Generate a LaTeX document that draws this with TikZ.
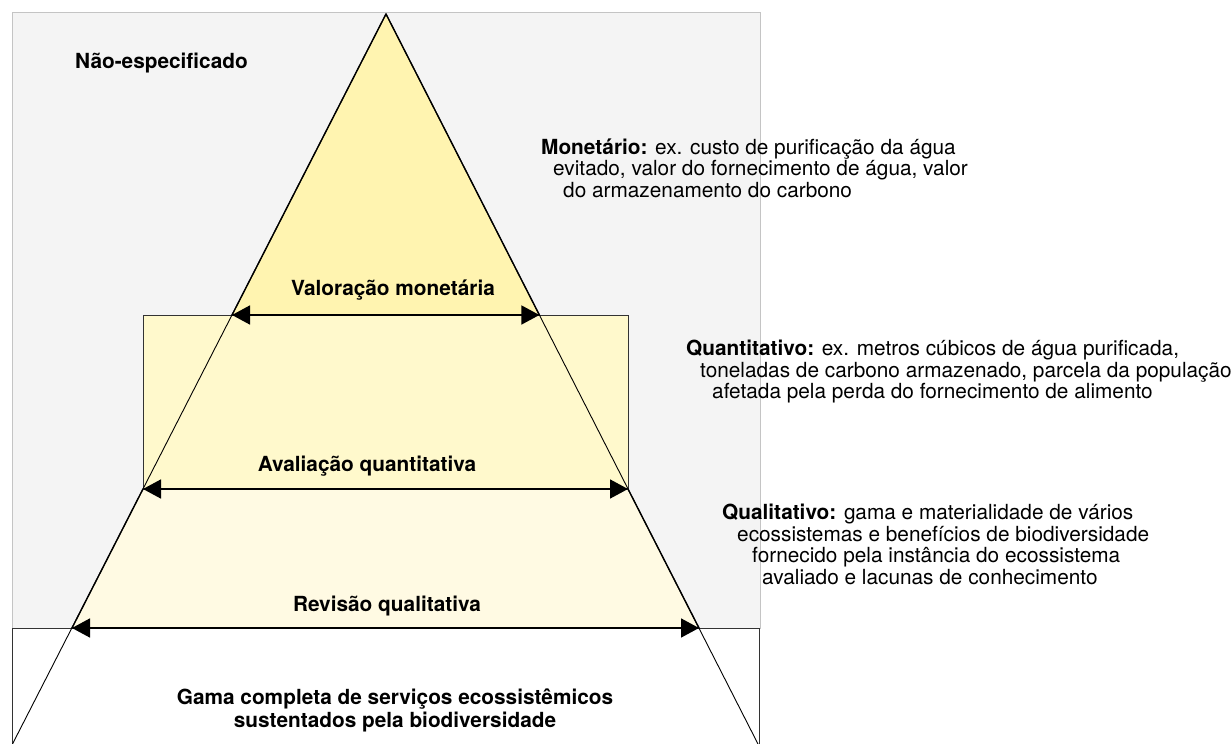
\documentclass[tikz,border=0pt]{standalone}
\usepackage{fontspec}
\setmainfont{TeX Gyre Heros}
\usetikzlibrary{positioning}
\usetikzlibrary{arrows.meta}

\definecolor{bg_grey}{HTML}{F4F4F4}
\definecolor{edge_grey}{HTML}{C4C4C4}
\definecolor{top_yellow}{HTML}{FFF4B0}
\definecolor{mid_yellow}{HTML}{FFF9CC}
\definecolor{low_yellow}{HTML}{FFFAE3}

\newcommand{\diagfont}{\fontsize{20.8}{21.5}\selectfont}

\begin{document}
\begin{tikzpicture}[x=1pt, y=-1pt,
                          levellabel/.style={font=\diagfont\bfseries, inner sep=0pt, anchor=base},
                          notetext/.style={font=\diagfont, align=left, inner sep=0pt, anchor=base west},
                          rangearrow/.style={{Triangle[length=18pt,width=19pt]}-{Triangle[length=18pt,width=19pt]}, line width=1.6pt},
                          thinline/.style={draw=black, line width=0.9pt},
                          layerline/.style={draw=black, line width=1.4pt, line join=round},
                          areabox/.style={draw=black!80, line width=1pt},
                      ]
                      \useasboundingbox (0,0) rectangle (1232,744);

                      % Areas
                      \draw[areabox, fill=bg_grey, draw=edge_grey] (12,12) rectangle (760,628);
                      \draw[areabox, fill=white] (12,628) rectangle (759,744);
                      \draw[areabox, fill=mid_yellow] (143,315) rectangle (628,489);

                      % Corners of the pyramid
                      \coordinate (apex)   at (386,14);
                      \coordinate (base_l) at (12.5,744);
                      \coordinate (base_r) at (758,744);
                      \coordinate (mon_l)  at (232,315);
                      \coordinate (mon_r)  at (539.4,315);
                      \coordinate (quan_l) at (143,489);
                      \coordinate (quan_r) at (628,489);
                      \coordinate (qual_l) at (72,628);
                      \coordinate (qual_r) at (699,628);

                      \filldraw[layerline, fill=top_yellow] (apex) -- (mon_r) -- (mon_l) -- cycle;
                      \filldraw[layerline, fill=low_yellow] (quan_l) -- (quan_r) -- (qual_r) -- (qual_l) -- cycle;
                      \draw[thinline] (base_l) -- (apex) -- (base_r);

                      % Nodes (multi-line nodes sit on the baseline of their last line)
                      \node[levellabel, anchor=base west] (unspec)   at (75,68)      {Não-especificado};
                      \node[levellabel]                   (monetary) at (393,295)    {Valoração monetária};
                      \node[levellabel]                   (quantit)  at (367,471.5)  {Avaliação quantitativa};
                      \node[levellabel]                   (qualit)   at (387,611)    {Revisão qualitativa};
                      \node[levellabel, align=center, font=\fontsize{20.8}{23.5}\selectfont\bfseries]
                                                          (fullrange) at (395,727.5) {Gama completa de serviços ecossistêmicos\\sustentados pela biodiversidade};

                      \node[notetext] (note_mon) at (541,197)
                          {\textbf{Monetário:} ex. custo de purificação da água\\
                           \hspace*{12pt}evitado, valor do fornecimento de água, valor\\
                           \hspace*{22pt}do armazenamento do carbono};
                      \node[notetext] (note_quan) at (686,398.5)
                          {\textbf{Quantitativo:} ex. metros cúbicos de água purificada,\\
                           \hspace*{14pt}toneladas de carbono armazenado, parcela da população\\
                           \hspace*{26pt}afetada pela perda do fornecimento de alimento};
                      \node[notetext] (note_qual) at (722,584)
                          {\textbf{Qualitativo:} gama e materialidade de vários\\
                           \hspace*{15pt}ecossistemas e benefícios de biodiversidade\\
                           \hspace*{30pt}fornecido pela instância do ecossistema\\
                           \hspace*{40pt}avaliado e lacunas de conhecimento};

                      %Lines
                      \draw[rangearrow] (mon_l) -- (mon_r);
                      \draw[rangearrow] (quan_l) -- (quan_r);
                      \draw[rangearrow] (qual_l) -- (qual_r);
                  \end{tikzpicture}
\end{document}
